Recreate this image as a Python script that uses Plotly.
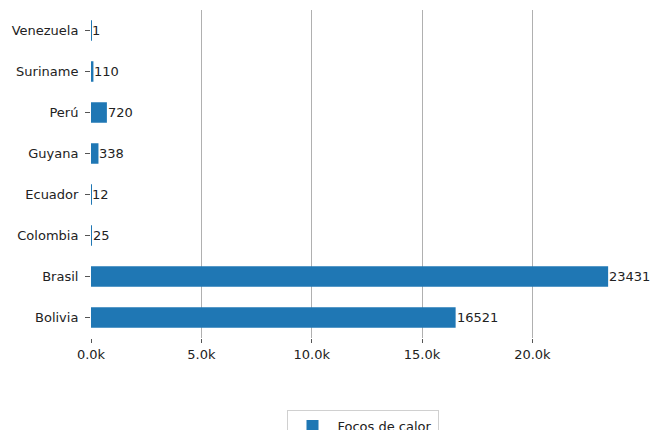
import plotly.graph_objects as go

countries = ["Bolivia", "Brasil", "Colombia", "Ecuador", "Guyana", "Perú", "Suriname", "Venezuela"]
focos = [16521, 23431, 25, 12, 338, 720, 110, 1]
tick_vals = [0, 5000, 10000, 15000, 20000]
tick_text = ["0.0k", "5.0k", "10.0k", "15.0k", "20.0k"]
series_name = "Focos de calor"

fig = go.Figure()
fig.add_trace(go.Bar(
    y=countries, x=focos, orientation="h", name=series_name,
    marker=dict(color="#1f77b4", line=dict(width=0)),
    width=0.5, showlegend=True,
))

for c, v in zip(countries, focos):
    fig.add_annotation(x=v, y=c, text=str(v), showarrow=False,
                       xanchor="left", xshift=-1, yanchor="middle",
                       font=dict(family="DejaVu Sans", size=13, color="#222222"))

# the figure runs past the window bottom so the legend is cut off as in the reference
fig.update_layout(
    width=651, height=460,
    margin=dict(l=91, r=17, t=10, b=122),
    paper_bgcolor="white", plot_bgcolor="white",
    font=dict(family="DejaVu Sans", size=13, color="#222222"),
    showlegend=True,
    legend=dict(orientation="h", x=0.5, xanchor="center", y=-0.22, yanchor="top",
                bordercolor="#d0d0d0", borderwidth=1, font=dict(size=13),
                itemwidth=40),
)
fig.update_xaxes(
    range=[0, 24603], tickvals=tick_vals, ticktext=tick_text,
    showgrid=True, gridcolor="#b0b0b0", gridwidth=1,
    zeroline=False, showline=False, automargin=False,
    ticks="outside", ticklen=4, tickcolor="#555555",
)
fig.update_yaxes(
    range=[-0.5, 7.5], showgrid=False, zeroline=False, showline=False,
    automargin=False, ticklabelstandoff=4,
    ticks="outside", ticklen=5, tickcolor="#555555",
)
fig.write_html("out.html",
               config={"displayModeBar": False},
               post_script="document.body.style.margin='0';document.body.style.overflow='hidden';")
